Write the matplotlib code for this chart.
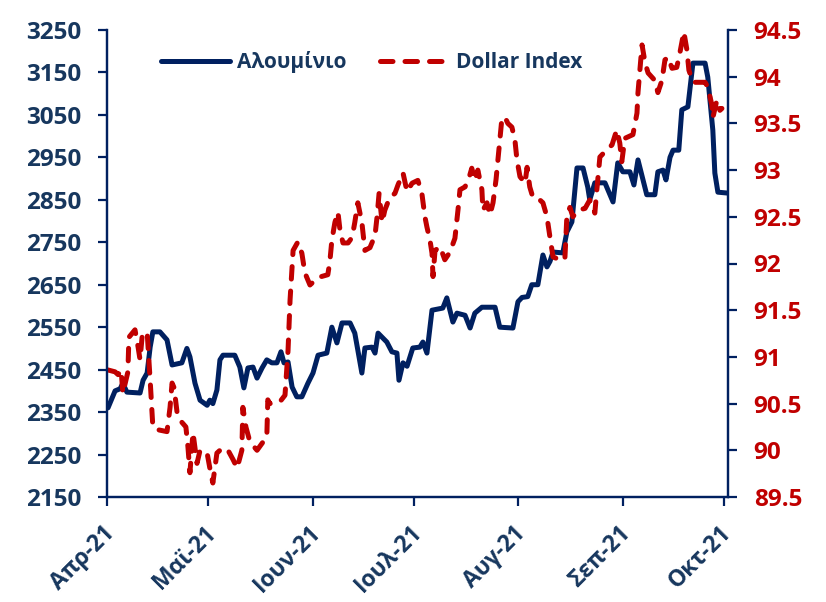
import matplotlib
matplotlib.use("Agg")
import matplotlib.pyplot as plt
import matplotlib.transforms as mtransforms
import numpy as np
import pandas as pd

plt.rcParams['font.family'] = ['Open Sans', 'DejaVu Sans']
plt.rcParams['font.weight'] = 'bold'

start = pd.Timestamp('2021-04-01')

# Aluminium (left axis) - days since 2021-04-01
alu_days = [0.3, 2.4, 3.9, 4.7, 5.9, 9.8, 10.7, 11.9, 12.8, 13.6, 15.7, 17.8, 19.3, 22.2, 23.7, 24.6,
            26.1, 27.6, 29.7, 30.5, 31.4, 32.6, 33.5, 34.4, 37.9, 39.4, 40.6, 41.8, 43.3, 44.5, 46.0,
            47.4, 48.9, 50.4, 51.6, 52.5, 53.7, 54.9, 56.3, 57.8, 59.6, 61.1, 62.6, 65.2, 66.7, 68.2,
            69.7, 72.1, 73.5, 74.4, 75.6, 76.5, 78.6, 79.5, 80.4, 83.0, 84.5, 86.0, 86.6, 87.8, 89.0,
            90.7, 92.8, 93.7, 94.9, 96.4, 99.6, 100.8, 102.6, 103.8, 106.2, 107.7, 109.1, 111.2, 115.1,
            116.5, 120.4, 121.9, 123.1, 124.8, 126.0, 127.8, 129.3, 130.5, 131.4, 132.3, 135.2, 136.4,
            137.9, 139.4, 141.2, 142.6, 143.2, 144.7, 147.7, 150.1, 151.5, 153.0, 155.1, 156.3, 157.5,
            160.1, 162.5, 163.4, 164.9, 165.8, 167.0, 167.9, 169.6, 170.5, 172.3, 173.8, 177.4, 178.2,
            179.7, 180.3, 181.2, 183.9]
alu_vals = [2360, 2400, 2405, 2418, 2397, 2395, 2425, 2442, 2503, 2539, 2539, 2520, 2461, 2466, 2500, 2480,
            2418, 2378, 2366, 2378, 2370, 2402, 2473, 2484, 2484, 2456, 2407, 2454, 2456, 2430, 2454,
            2473, 2466, 2466, 2492, 2466, 2468, 2409, 2386, 2386, 2418, 2442, 2484, 2489, 2550, 2513,
            2560, 2560, 2536, 2496, 2442, 2501, 2503, 2489, 2536, 2515, 2492, 2489, 2425, 2466, 2458,
            2501, 2503, 2515, 2489, 2590, 2595, 2619, 2562, 2583, 2578, 2548, 2583, 2597, 2597,
            2550, 2548, 2610, 2620, 2622, 2650, 2650, 2720, 2692, 2705, 2727, 2725, 2774,
            2798, 2925, 2925, 2880, 2850, 2890, 2890, 2845, 2937, 2916, 2916, 2885, 2944,
            2862, 2862, 2916, 2920, 2897, 2950, 2967, 2967, 3062, 3069, 3172, 3172, 3139,
            3014, 2913, 2868, 2866]

# Dollar Index (right axis)
usd_days = [0.3, 2.4, 3.3, 4.2, 4.7, 6.2, 6.5, 8.3, 9.2, 9.8, 10.4, 11.9, 12.8, 13.6, 15.1, 17.8, 18.7,
            19.3, 19.9, 20.8, 22.2, 23.4, 24.0, 24.6, 25.5, 26.7, 27.6, 29.7, 30.5, 31.4, 32.6, 33.5,
            35.6, 37.4, 38.6, 40.0, 40.3, 41.2, 42.4, 44.5, 46.3, 47.4, 47.7, 48.3, 51.3, 52.8, 53.7,
            54.3, 55.2, 56.6, 57.8, 58.7, 60.2, 62.6, 65.5, 66.1, 66.7, 67.6, 68.5, 69.1, 70.0, 71.5,
            72.7, 73.5, 74.4, 75.6, 76.5, 78.0, 79.5, 80.1, 80.7, 81.6, 82.4, 83.9, 85.4, 86.3, 87.8,
            89.0, 90.5, 92.2, 93.4, 94.3, 94.9, 95.8, 96.4, 96.7, 97.3, 98.8, 100.2, 101.7, 103.2,
            104.1, 104.7, 106.2, 107.4, 108.2, 109.1, 110.0, 111.2, 111.5, 112.7, 113.6, 114.5, 115.4,
            116.0, 116.5, 117.1, 118.0, 118.9, 120.1, 121.0, 121.6, 122.5, 124.0, 124.6, 125.4, 126.3,
            127.8, 129.3, 130.5, 131.4, 132.3, 134.3, 135.8, 136.4, 137.3, 138.2, 139.7, 141.8, 143.2,
            144.7, 145.3, 146.2, 148.3, 149.8, 151.2, 152.1, 152.7, 153.6, 156.0, 157.2, 157.5, 158.7,
            159.6, 160.5, 162.5, 163.4, 164.6, 165.5, 166.4, 167.6, 169.0, 169.9, 171.1, 172.0, 172.6,
            173.8, 177.4, 178.2, 179.4, 179.7, 180.9, 181.8, 182.4]
usd_vals = [90.86, 90.84, 90.81, 90.86, 90.61, 90.84, 91.21, 91.29, 91.11, 90.97, 91.21, 91.27, 90.75,
            90.25, 90.22, 90.20, 90.46, 90.72, 90.67, 90.40, 90.30, 90.25, 90.04, 89.76, 90.19, 89.86,
            90.00, 89.97, 89.81, 89.65, 89.97, 90.00, 90.02, 89.90, 89.81, 90.00, 90.46, 90.25, 90.09,
            90.00, 90.09, 90.14, 90.54, 90.50, 90.52, 90.59, 91.07, 91.61, 92.14, 92.23, 92.11, 91.90,
            91.77, 91.85, 91.88, 92.02, 92.25, 92.44, 92.55, 92.36, 92.22, 92.22, 92.28, 92.44, 92.65,
            92.44, 92.14, 92.17, 92.30, 92.50, 92.75, 92.44, 92.57, 92.71, 92.75, 92.84, 92.97, 92.77,
            92.86, 92.89, 92.75, 92.50, 92.39, 92.25, 92.11, 91.86, 92.14, 92.18, 92.04, 92.12, 92.27,
            92.57, 92.79, 92.82, 92.92, 93.02, 92.89, 93.00, 92.79, 92.57, 92.65, 92.52, 92.65, 92.90,
            93.13, 93.32, 93.54, 93.57, 93.50, 93.46, 93.32, 93.11, 92.93, 92.86, 93.03, 92.82, 92.71,
            92.70, 92.65, 92.50, 92.28, 92.07, 92.04, 92.04, 92.50, 92.60, 92.50, 92.57, 92.59, 92.68,
            92.54, 92.79, 93.14, 93.22, 93.27, 93.43, 93.29, 93.09, 93.34, 93.38, 93.61, 93.83, 94.34,
            94.15, 94.04, 93.96, 93.83, 93.96, 94.18, 94.21, 94.09, 94.10, 94.25, 94.48, 94.29, 94.07,
            93.94, 93.94, 93.89, 93.70, 93.56, 93.75, 93.64, 93.66]

month_ticks = ['2021-04-01', '2021-05-01', '2021-06-01', '2021-07-01', '2021-08-01', '2021-09-01', '2021-10-01']
month_labels = ['Απρ-21', 'Μαϊ-21', 'Ιουν-21', 'Ιουλ-21', 'Αυγ-21', 'Σεπ-21', 'Οκτ-21']
left_ticks = list(range(2150, 3251, 100))
right_ticks = [89.5, 90, 90.5, 91, 91.5, 92, 92.5, 93, 93.5, 94, 94.5]
series_names = ['Αλουμίνιο', 'Dollar Index']

NAVY = '#002060'
TXT = '#17375E'
RED = '#C00000'

alu_dates = start + pd.to_timedelta(alu_days, unit='D')
usd_dates = start + pd.to_timedelta(usd_days, unit='D')

fig = plt.figure(figsize=(8.26, 6.02), dpi=100)
ax = fig.add_axes([107/826, 1 - 497/602, (728-107)/826, (497-30)/602])
ax2 = ax.twinx()

l1, = ax.plot(alu_dates, alu_vals, color=NAVY, lw=3.6, solid_joinstyle='round',
              solid_capstyle='round', label=series_names[0])
l2, = ax2.plot(usd_dates, usd_vals, color=RED, lw=3.6, dashes=(2.5, 2.4),
               dash_capstyle='round', dash_joinstyle='round', label=series_names[1])

ax.set_xlim(start, start + pd.Timedelta(days=184.2))
ax.set_ylim(2150, 3250)
ax2.set_ylim(89.5, 94.5)

ax.set_yticks(left_ticks)
ax.set_yticklabels([str(v) for v in left_ticks])
ax2.set_yticks(right_ticks)
ax2.set_yticklabels([f"{v:g}" for v in right_ticks])
ax.set_xticks(pd.to_datetime(month_ticks))
ax.set_xticklabels(month_labels, rotation=45, ha='right', va='center', rotation_mode='anchor')

for a in (ax, ax2):
    a.spines['top'].set_visible(False)
    for s in ('left', 'right', 'bottom'):
        a.spines[s].set_color(NAVY)
        a.spines[s].set_linewidth(1.6)
    a.tick_params(axis='both', direction='out', length=6.5, width=1.6, color=NAVY)

ax.tick_params(axis='y', labelsize=17.5, labelcolor=TXT, pad=12)
ax.tick_params(axis='x', labelsize=16.5, labelcolor=TXT, pad=17)
ax2.tick_params(axis='y', labelsize=17.5, labelcolor=RED, pad=12)

for lab in ax.get_xticklabels() + ax.get_yticklabels() + ax2.get_yticklabels():
    lab.set_fontweight('bold')

offset = mtransforms.ScaledTranslation(4/100, 0, fig.dpi_scale_trans)
for lab in ax.get_xticklabels():
    lab.set_transform(lab.get_transform() + offset)

leg = ax.legend(handles=[l1, l2], loc='center', bbox_to_anchor=(372/826, 1 - 62/602),
                bbox_transform=fig.transFigure, ncol=2, frameon=False,
                prop={'size': 15, 'weight': 'bold'}, handlelength=3.3, handletextpad=0.35,
                columnspacing=1.6)
for t in leg.get_texts():
    t.set_color(TXT)

fig.savefig('out.png', dpi=100)
